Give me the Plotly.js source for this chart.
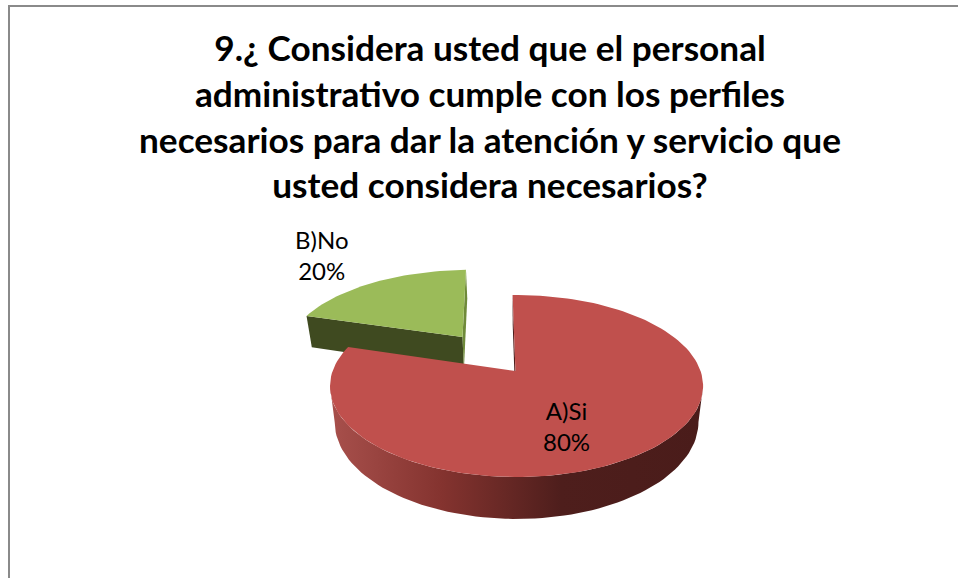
<!DOCTYPE html>
<html><head><meta charset="utf-8">
<script src="https://cdn.plot.ly/plotly-3.0.1.min.js"></script>
<style>html,body{margin:0;padding:0;background:#fff}#c{width:958px;height:578px}</style>
</head><body><div id="c"></div>
<script>
const categories = ['A)Si', 'B)No'];
const values = [80, 20];
const titleLines = ['9.¿ Considera usted que el personal', 'administrativo cumple con los perfiles', 'necesarios para dar la atención y servicio que', 'usted considera necesarios?'];

const total = values.reduce((a, b) => a + b, 0);
const X0 = 517.5, Y0 = 371, A = 88.5, B = 184, K = 0.165, H = 35, ROT = -1.5, BOTTOM = 0.975;
const rad = d => d * Math.PI / 180;
function proj(u, v, z) {
  const w = 1 + K * v;
  return [X0 + (z ? BOTTOM : 1) * B * u / w, Y0 - A * v / w + (z ? H / w : 0)];
}
function arc(off, a0, a1, z) {
  const pts = [], n = Math.max(2, Math.ceil(Math.abs(a1 - a0) / 2));
  for (let i = 0; i <= n; i++) {
    const t = rad(a0 + (a1 - a0) * i / n);
    pts.push(proj(off[0] + Math.sin(t), off[1] + Math.cos(t), z));
  }
  return pts;
}
function poly(pts, color, extra) {
  return Object.assign({
    type: 'scatter', mode: 'lines', x: pts.map(p => p[0]), y: pts.map(p => p[1]),
    fill: 'toself', fillcolor: color, line: {width: 0, color: color}, hoverinfo: 'skip', showlegend: false
  }, extra || {});
}
const closed = p => p.concat([p[0]]);

const redOff = [-0.005, 0], greenOff = [-0.319, 0.41];
const redEnd = ROT + values[0] / total * 360;
const greenEnd = redEnd + values[1] / total * 360;
const apexR = proj(redOff[0] - 0.006, redOff[1], false), apexRb = proj(redOff[0] - 0.006, redOff[1], true);
const apexG = proj(greenOff[0], greenOff[1], false), apexGb = proj(greenOff[0], greenOff[1], true);

const traces = [];
// green slice: cut walls, then top face
const gCutL = arc(greenOff, redEnd, redEnd, false)[0], gCutLb = arc(greenOff, redEnd, redEnd, true)[0];
const gCutR = arc(greenOff, greenEnd, greenEnd, false)[0], gCutRb = arc(greenOff, greenEnd, greenEnd, true)[0];
traces.push(poly(closed([apexG, gCutL, gCutLb, apexGb]), '#3F4A20'));
traces.push(poly(closed([apexG, gCutR, gCutRb, apexGb]), '#6F8A3A'));
traces.push(poly(closed([apexG].concat(arc(greenOff, redEnd, greenEnd, false))), '#9BBB59'));
// red slice: outer wall with gradient, start cut wall, top face
const wallTop = arc(redOff, 99.5, 260.5, false), wallBot = arc(redOff, 99.5, 260.5, true).reverse();
traces.push(poly(closed(wallTop.concat(wallBot)), '#7a2f2c', {
  fillgradient: {type: 'horizontal', colorscale: [[0, '#A8504C'], [0.3, '#84332F'], [0.62, '#4E1E1C'], [1, '#4A1C1A']]}
}));
const rS = arc(redOff, ROT, ROT, false)[0], rSb = arc(redOff, ROT, ROT, true)[0];
traces.push(poly(closed([apexR, rS, rSb, apexRb]), '#4E1E1C'));
traces.push(poly(closed([apexR].concat(arc(redOff, ROT, redEnd, false))), '#C0504D'));

const lblFont = {family: 'Lato, sans-serif', size: 24, color: '#000'};
const labelPos = [[566, 426], [322, 255]];
const annotations = categories.map((c, i) => ({
  x: labelPos[i][0], y: labelPos[i][1], xref: 'x', yref: 'y', showarrow: false,
  text: c + '<br>' + Math.round(values[i] / total * 100) + '%', font: lblFont, align: 'center'
}));

const line = (x0, y0, x1, y1) => ({type: 'line', xref: 'x', yref: 'y', x0, y0, x1, y1, line: {color: '#8a8a8a', width: 2}});
Plotly.newPlot('c', traces, {
  width: 958, height: 578, margin: {l: 0, r: 0, t: 0, b: 0},
  paper_bgcolor: '#fff', plot_bgcolor: '#fff', showlegend: false,
  title: {text: titleLines.join('<br>'), x: 490 / 958, xanchor: 'center', y: 1 - 61 / 578, yanchor: 'top', font: {family: 'Lato, sans-serif', size: 35.2, color: '#000', weight: 700}},
  xaxis: {range: [0, 958], visible: false, fixedrange: true},
  yaxis: {range: [578, 0], visible: false, fixedrange: true},
  shapes: [line(9, 6, 958, 6), line(9, 5, 9, 578)],
  annotations
}, {displayModeBar: false, staticPlot: true});
</script></body></html>
